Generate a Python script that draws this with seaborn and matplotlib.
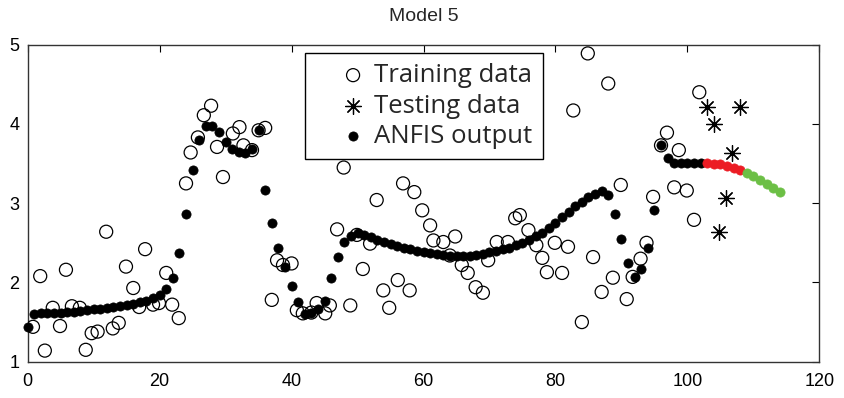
import matplotlib
matplotlib.use("Agg")
import matplotlib.pyplot as plt
import seaborn as sns
import pandas as pd
from matplotlib import font_manager

# ---- data ----
train_x = [0.8, 1.9, 2.6, 3.8, 4.9, 5.8, 6.7, 7.9, 8.8, 9.7, 10.6, 11.9, 12.9, 13.8, 14.9,
           16.0, 16.9, 17.8, 19.0, 19.9, 21.0, 21.9, 22.9, 24.0, 24.7, 25.8, 26.7, 27.8,
           28.7, 29.6, 31.1, 32.1, 32.7, 34.0, 35.0, 36.0, 37.0, 37.8, 38.7, 40.0, 40.8,
           41.7, 43.0, 43.8, 45.1, 45.8, 46.9, 47.9, 48.9, 49.9, 50.8, 51.9, 52.9, 53.9,
           54.8, 56.1, 56.9, 57.9, 58.6, 59.8, 61.0, 61.5, 63.0, 64.0, 64.8, 65.8, 66.7,
           67.9, 69.0, 69.8, 71.1, 72.8, 73.9, 74.6, 75.9, 77.1, 78.0, 78.7, 79.9, 81.0,
           81.9, 82.7, 84.0, 84.9, 85.7, 87.0, 88.0, 88.7, 89.9, 90.8, 91.7, 92.9, 93.8,
           94.8, 96.0, 96.9, 98.0, 98.7, 99.9, 101.0, 101.8]
train_y = [1.44, 2.08, 1.14, 1.68, 1.45, 2.16, 1.70, 1.68, 1.15, 1.36, 1.38, 2.64, 1.42, 1.49, 2.20,
           1.93, 1.69, 2.42, 1.72, 1.74, 2.12, 1.72, 1.55, 3.25, 3.64, 3.83, 4.11, 4.23,
           3.71, 3.33, 3.88, 3.96, 3.73, 3.67, 3.92, 3.95, 1.78, 2.28, 2.22, 2.24, 1.65,
           1.61, 1.62, 1.74, 1.61, 1.71, 2.67, 3.45, 1.71, 2.60, 2.17, 2.49, 3.04, 1.90,
           1.68, 2.03, 3.25, 1.90, 3.14, 2.91, 2.72, 2.53, 2.51, 2.34, 2.58, 2.22, 2.12,
           1.94, 1.87, 2.28, 2.51, 2.51, 2.81, 2.85, 2.66, 2.47, 2.31, 2.13, 2.50, 2.12,
           2.45, 4.17, 1.50, 4.89, 2.32, 1.88, 4.51, 2.06, 3.23, 1.79, 2.07, 2.30, 2.50,
           3.08, 3.73, 3.89, 3.20, 3.67, 3.16, 2.79, 4.40]

test_x = [102.9, 104.0, 104.8, 105.9, 106.8, 108.0]
test_y = [4.21, 4.00, 2.64, 3.07, 3.63, 4.21]

anfis_x = list(range(0, 103))
anfis_y = [1.44, 1.60, 1.61, 1.61, 1.62, 1.62, 1.63, 1.63, 1.64, 1.65, 1.66, 1.67, 1.68, 1.69,
           1.70, 1.71, 1.73, 1.75, 1.77, 1.80, 1.84, 1.92, 2.06, 2.37, 2.87, 3.42, 3.80, 3.97,
           3.97, 3.90, 3.77, 3.69, 3.64, 3.63, 3.69, 3.92, 3.17, 2.75, 2.43, 2.19, 1.95, 1.75,
           1.60, 1.61, 1.66, 1.77, 2.05, 2.32, 2.51, 2.58, 2.62, 2.60, 2.57, 2.54, 2.51, 2.48,
           2.46, 2.44, 2.42, 2.40, 2.38, 2.37, 2.36, 2.35, 2.34, 2.34, 2.34, 2.34, 2.35, 2.36,
           2.38, 2.40, 2.42, 2.44, 2.47, 2.50, 2.54, 2.58, 2.63, 2.69, 2.75, 2.82, 2.89, 2.96,
           3.02, 3.08, 3.12, 3.15, 3.10, 2.87, 2.55, 2.25, 2.07, 2.17, 2.43, 2.91, 3.73, 3.57,
           3.51, 3.51, 3.51, 3.51, 3.51]
red_x = [103, 104, 105, 106, 107, 108]
red_y = [3.51, 3.50, 3.49, 3.47, 3.45, 3.42]
green_x = [109, 110, 111, 112, 113, 114]
green_y = [3.38, 3.34, 3.29, 3.24, 3.19, 3.14]

x_ticks = [0, 20, 40, 60, 80, 100, 120]
y_ticks = [1, 2, 3, 4, 5]
title = "Model 5"
legend_labels = ["Training data", "Testing data", "ANFIS output"]

# ---- styling ----
sns.set_style("white")
avail = {f.name for f in font_manager.fontManager.ttflist}
narrow_fonts = [f for f in ["Liberation Sans Narrow", "Arial Narrow", "Nimbus Sans Narrow"]
                if f in avail]
if narrow_fonts:
    plt.rcParams["font.family"] = [narrow_fonts[0], "DejaVu Sans"]
else:
    plt.rcParams["font.family"] = ["Liberation Sans", "DejaVu Sans"]

fig = plt.figure(figsize=(8.44, 3.98), dpi=100)
ax = fig.add_axes([0.0328, 0.0912, 0.9380, 0.7965])

df_train = pd.DataFrame({"x": train_x, "y": train_y})
df_test = pd.DataFrame({"x": test_x, "y": test_y})
df_anfis = pd.DataFrame({"x": anfis_x, "y": anfis_y})
df_red = pd.DataFrame({"x": red_x, "y": red_y})
df_green = pd.DataFrame({"x": green_x, "y": green_y})

sns.scatterplot(data=df_train, x="x", y="y", ax=ax, marker="o", s=88,
                facecolor="none", edgecolor="black", linewidth=0.9,
                label=legend_labels[0], zorder=3)
sns.scatterplot(data=df_test, x="x", y="y", ax=ax, marker=(8, 2, 0), s=130,
                color="black", linewidth=0.9, label=legend_labels[1], zorder=4)
sns.scatterplot(data=df_anfis, x="x", y="y", ax=ax, marker="o", s=44,
                color="black", edgecolor="black", linewidth=0.5,
                label=legend_labels[2], zorder=5, clip_on=False)
sns.scatterplot(data=df_red, x="x", y="y", ax=ax, marker="o", s=44,
                color="#ec1c24", edgecolor="#ec1c24", linewidth=0.5, zorder=5, legend=False)
sns.scatterplot(data=df_green, x="x", y="y", ax=ax, marker="o", s=44,
                color="#6cbf45", edgecolor="#6cbf45", linewidth=0.5, zorder=5, legend=False)

ax.set_xlim(0, 120)
ax.set_ylim(1, 5)
ax.set_xticks(x_ticks)
ax.set_yticks(y_ticks)
ax.set_xlabel("")
ax.set_ylabel("")
ax.tick_params(direction="in", length=5, width=0.8, top=True, right=True,
               labelsize=13, colors="black")
ax.tick_params(axis="x", pad=8)
ax.tick_params(axis="y", pad=6)
for sp in ax.spines.values():
    sp.set_visible(True)
    sp.set_color("#333333")
    sp.set_linewidth(1.0)
ax.set_title(title, fontsize=14, pad=17)

leg = ax.legend(loc="upper left", bbox_to_anchor=(0.350, 0.975), frameon=True,
                fancybox=False, edgecolor="black", framealpha=1,
                prop={"family": ["Open Sans", "DejaVu Sans"], "size": 18.5},
                handletextpad=-0.66, borderpad=0.4, labelspacing=0.22,
                handlelength=2.96, borderaxespad=0)
leg.get_frame().set_linewidth(1.0)

fig.savefig("out.png", dpi=100)
